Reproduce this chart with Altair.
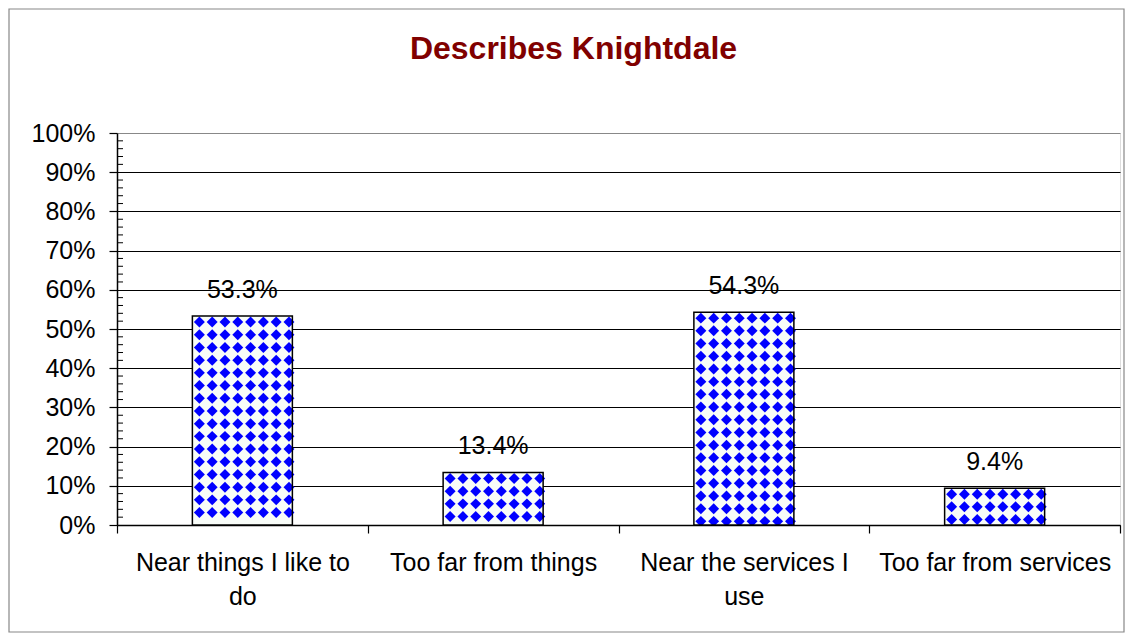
import altair as alt
import pandas as pd

categories = ["Near things I like to do", "Too far from things",
              "Near the services I use", "Too far from services"]
values = [0.533, 0.134, 0.543, 0.094]

df = pd.DataFrame({"category": categories, "value": values})

FONT = "Liberation Sans"
FS = 25
W, H = 1003, 392

label_expr = ("datum.label == 'Near things I like to do' ? ['Near things I like to', 'do'] : "
              "datum.label == 'Near the services I use' ? ['Near the services I', 'use'] : datum.label")

x_axis = alt.Axis(labelAngle=0, labelFont=FONT, labelFontSize=FS, labelColor="black",
                  labelExpr=label_expr, labelLineHeight=34, labelPadding=17,
                  labelLimit=0, labelOverlap=False,
                  tickBand="extent", tickSize=8, tickColor="black", tickWidth=1.2,
                  domainColor="black", domainWidth=1.5, labelBaseline="top")
y_axis = alt.Axis(format=".0%", values=[round(i / 10, 1) for i in range(11)],
                  labelFont=FONT, labelFontSize=FS, labelColor="black",
                  labelOverlap=False, labelPadding=14,
                  tickSize=8, tickColor="black", tickWidth=1.2,
                  domainColor="black", domainWidth=1.5,
                  gridColor={"condition": {"test": "datum.value >= 1", "value": "#888888"},
                             "value": "black"},
                  gridWidth=1)
y_scale = alt.Scale(domain=[0, 1], nice=False)


def X():
    return alt.X("category:N", sort=categories, title=None,
                 scale=alt.Scale(paddingInner=0, paddingOuter=0), axis=x_axis)


def Y(field):
    return alt.Y(field, title=None, scale=y_scale, axis=y_axis)


base = alt.Chart(df)

bars_fill = base.mark_bar(size=100, fill="#F8FCF8", strokeWidth=0).encode(x=X(), y=Y("value:Q"))

pattern = base.transform_calculate(
    ys="sequence(datum.value - 0.0153, 0.008, -0.0324)"
).transform_flatten(["ys"]).transform_calculate(
    cols="sequence(-43, 47, 12.8)"
).transform_flatten(["cols"]).mark_point(
    shape="diamond", filled=True, color="#0000FF", size=120, opacity=1, clip=True
).encode(
    x=X(),
    xOffset=alt.XOffset("cols:Q", scale=alt.Scale(domain=[-W / 8, W / 8], range=[0, W / 4])),
    y=Y("ys:Q"),
)

bars_outline = base.mark_bar(size=100, fillOpacity=0, stroke="black", strokeWidth=1.5).encode(
    x=X(), y=Y("value:Q"))

labels = base.mark_text(font=FONT, fontSize=FS, baseline="bottom", dy=-13, color="black").encode(
    x=X(), y=Y("value:Q"),
    text=alt.Text("value:Q", format=".1%"))

minor = alt.Chart(alt.sequence(0.02, 1.0, 0.02, as_="v")).transform_filter(
    "round(datum.v * 50) % 5 != 0"
).mark_rule(color="black", strokeWidth=1).encode(
    y=Y("v:Q"), x=alt.value(0), x2=alt.value(6))

border = alt.Chart(alt.Data(values=[{"frame": 1}])).mark_rect(
    fill="transparent", stroke="#888888", strokeWidth=1.2, clip=False
).encode(x=alt.value(-108), x2=alt.value(W + 4), y=alt.value(-124), y2=alt.value(H + 107))

chart = alt.layer(border, bars_fill, pattern, bars_outline, labels, minor).properties(
    width=W, height=H,
    autosize=alt.AutoSizeParams(type="none"),
    padding={"left": 109, "top": 125, "right": 5, "bottom": 108},
    title=alt.Title("Describes Knightdale", font=FONT, fontSize=32, fontWeight="bold",
                    color="#800000", anchor="middle", baseline="alphabetic", offset=-83, dx=-45),
).configure_view(stroke="#888888", strokeWidth=1.5).configure(background="white")

chart.save("out.html", embed_options={"renderer": "svg", "actions": False})
